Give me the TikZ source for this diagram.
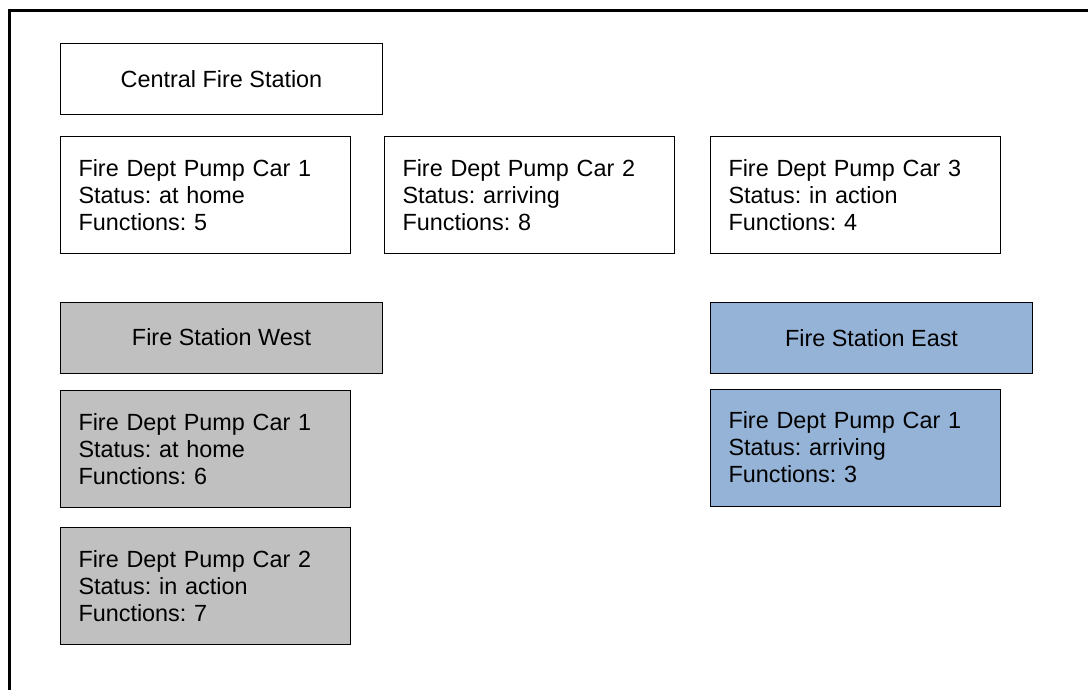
\documentclass[tikz,border=0pt]{standalone}
\usepackage{fontspec}
\setmainfont{Liberation Sans}
\frenchspacing
\definecolor{westgray}{HTML}{C0C0C0}
\definecolor{eastblue}{HTML}{95B3D7}
\begin{document}
\begin{tikzpicture}[x=1pt,y=-1pt,
  every node/.style={font=\fontsize{23.4pt}{27pt}\selectfont},
  station/.style={draw=black, line width=1pt, anchor=north west,
    minimum width=322pt, minimum height=71pt, inner sep=0pt},
  car/.style={draw=black, line width=1pt, anchor=north west,
    minimum width=290pt, minimum height=117pt, inner xsep=18pt, inner ysep=0pt,
    text width=254pt, align=left},
  frame/.style={line width=2.6pt, line cap=rect}]
  \useasboundingbox (0,0) rectangle (1088,689);
  % outer frame (only its top and left sides fall inside the page)
  \draw[frame] (1090,10.7) -- (9.7,10.7) -- (9.7,691);

  % central station
  \node[station] (central) at (60,43) {Central Fire Station};
  \node[car] (c1) at (60,136) {Fire Dept Pump Car 1\\Status: at home\\Functions: 5};
  \node[car] (c2) at (384,136) {Fire Dept Pump Car 2\\Status: arriving\\Functions: 8};
  \node[car] (c3) at (710,136) {Fire Dept Pump Car 3\\Status: in action\\Functions: 4};

  % west station
  \node[station, fill=westgray] (west) at (60,301.5) {Fire Station West};
  \node[car, fill=westgray] (w1) at (60,390) {Fire Dept Pump Car 1\\Status: at home\\Functions: 6};
  \node[car, fill=westgray] (w2) at (60,527) {Fire Dept Pump Car 2\\Status: in action\\Functions: 7};

  % east station
  \node[station, fill=eastblue] (east) at (710,302) {Fire Station East};
  \node[car, fill=eastblue] (e1) at (710,388.5) {Fire Dept Pump Car 1\\Status: arriving\\Functions: 3};
\end{tikzpicture}
\end{document}
